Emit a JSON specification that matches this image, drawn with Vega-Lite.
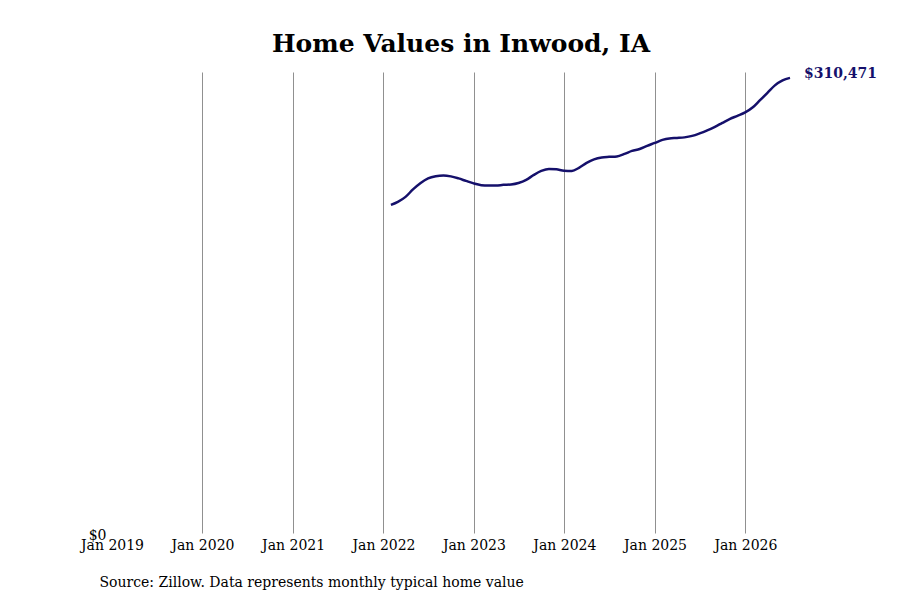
{
  "$schema": "https://vega.github.io/schema/vega-lite/v6.json",
  "width": 678,
  "height": 461,
  "autosize": "none",
  "padding": {"left": 112, "top": 72, "right": 110, "bottom": 67},
  "background": "white",
  "title": {
    "text": "Home Values in Inwood, IA",
    "font": "DejaVu Serif",
    "fontSize": 25,
    "fontWeight": "bold",
    "color": "#000000",
    "anchor": "middle",
    "dx": 10,
    "offset": 10
  },
  "data": {
    "values": [
      {"date": "2022-01-31", "value": 223800},
      {"date": "2022-02-28", "value": 225900},
      {"date": "2022-03-31", "value": 229300},
      {"date": "2022-04-30", "value": 234400},
      {"date": "2022-05-31", "value": 238800},
      {"date": "2022-06-30", "value": 241900},
      {"date": "2022-07-31", "value": 243400},
      {"date": "2022-08-31", "value": 243900},
      {"date": "2022-09-30", "value": 243300},
      {"date": "2022-10-31", "value": 241900},
      {"date": "2022-11-30", "value": 240200},
      {"date": "2022-12-31", "value": 238500},
      {"date": "2023-01-31", "value": 237300},
      {"date": "2023-02-28", "value": 237000},
      {"date": "2023-03-31", "value": 237000},
      {"date": "2023-04-30", "value": 237500},
      {"date": "2023-05-31", "value": 237800},
      {"date": "2023-06-30", "value": 238800},
      {"date": "2023-07-31", "value": 240900},
      {"date": "2023-08-31", "value": 244300},
      {"date": "2023-09-30", "value": 247000},
      {"date": "2023-10-31", "value": 248400},
      {"date": "2023-11-30", "value": 248100},
      {"date": "2023-12-31", "value": 247200},
      {"date": "2024-01-31", "value": 247000},
      {"date": "2024-02-29", "value": 249100},
      {"date": "2024-03-31", "value": 252500},
      {"date": "2024-04-30", "value": 254900},
      {"date": "2024-05-31", "value": 256200},
      {"date": "2024-06-30", "value": 256600},
      {"date": "2024-07-31", "value": 256900},
      {"date": "2024-08-31", "value": 258600},
      {"date": "2024-09-30", "value": 260700},
      {"date": "2024-10-31", "value": 262000},
      {"date": "2024-11-30", "value": 264100},
      {"date": "2024-12-31", "value": 266100},
      {"date": "2025-01-31", "value": 268200},
      {"date": "2025-02-28", "value": 269200},
      {"date": "2025-03-31", "value": 269500},
      {"date": "2025-04-30", "value": 269900},
      {"date": "2025-05-31", "value": 270900},
      {"date": "2025-06-30", "value": 272600},
      {"date": "2025-07-31", "value": 274700},
      {"date": "2025-08-31", "value": 277100},
      {"date": "2025-09-30", "value": 279800},
      {"date": "2025-10-31", "value": 282500},
      {"date": "2025-11-30", "value": 284600},
      {"date": "2025-12-31", "value": 286900},
      {"date": "2026-01-31", "value": 290400},
      {"date": "2026-02-28", "value": 295100},
      {"date": "2026-03-31", "value": 300300},
      {"date": "2026-04-30", "value": 305400},
      {"date": "2026-05-31", "value": 308800},
      {"date": "2026-06-30", "value": 310471}
    ]
  },
  "encoding": {
    "x": {
      "field": "date",
      "type": "temporal",
      "scale": {"domain": ["2019-01-01", "2026-06-30"]},
      "axis": {
        "values": ["2019-01-01", "2020-01-01", "2021-01-01", "2022-01-01", "2023-01-01", "2024-01-01", "2025-01-01", "2026-01-01"],
        "format": "%b %Y",
        "domain": false,
        "ticks": false,
        "grid": true,
        "gridColor": "#909090",
        "gridWidth": 1,
        "gridOpacity": {"condition": {"test": "year(datum.value) == 2019", "value": 0}, "value": 1},
        "labelFlush": false,
        "labelOverlap": false,
        "labelBound": false,
        "labelFont": "DejaVu Serif",
        "labelFontSize": 14,
        "labelColor": "#000000",
        "labelPadding": 5,
        "title": "Source: Zillow. Data represents monthly typical home value",
        "titleFont": "DejaVu Serif",
        "titleFontSize": 14,
        "titleFontWeight": "normal",
        "titleColor": "#000000",
        "titleAnchor": "start",
        "titleAlign": "left",
        "titleX": -13,
        "titleY": 42
      }
    },
    "y": {
      "field": "value",
      "type": "quantitative",
      "scale": {"domain": [0, 314500]},
      "axis": {
        "values": [0],
        "format": "$,.0f",
        "domain": false,
        "ticks": false,
        "grid": false,
        "labelFont": "DejaVu Serif",
        "labelFontSize": 14,
        "labelColor": "#000000",
        "labelPadding": 6,
        "labelBaseline": "middle",
        "labelOffset": 2,
        "title": null
      }
    }
  },
  "layer": [
    {
      "mark": {"type": "line", "color": "#15106b", "strokeWidth": 2.5, "interpolate": "monotone"}
    },
    {
      "transform": [{"filter": "datum.value == 310471"}],
      "mark": {
        "type": "text",
        "align": "left",
        "baseline": "middle",
        "dx": 14,
        "dy": -4,
        "font": "DejaVu Serif",
        "fontSize": 14,
        "fontWeight": "bold",
        "color": "#15106b"
      },
      "encoding": {
        "text": {"field": "value", "type": "quantitative", "format": "$,.0f"}
      }
    }
  ],
  "config": {"view": {"stroke": null}}
}
